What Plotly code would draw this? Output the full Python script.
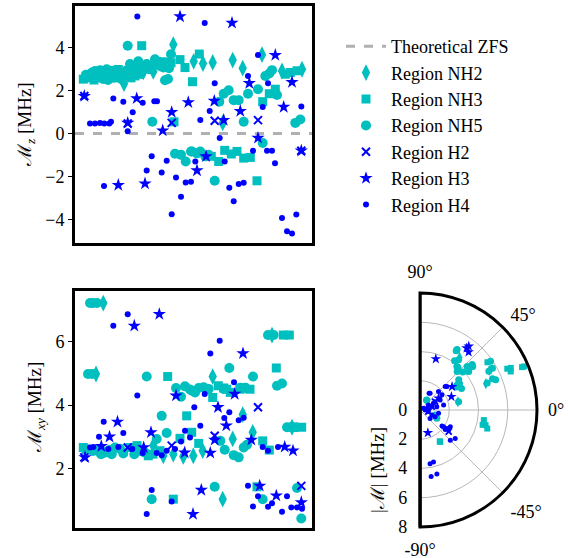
import plotly.graph_objects as go

W, H = 568, 558
CYAN = "#00BFBF"
BLUE = "#0000FF"
FONT = "Liberation Serif"

# ---------------- data (x = sample index) ----------------
ZFS_VALUE = 0.0
X_RANGE = [-8, 229]

# Region NH2 (thin diamonds)
nh2_x_top = [90.3, 110.7, 120, 129.7, 149.7, 179, 159.7, 41, 139.7, 60.3, 70.3, 199, 219]
nh2_mz = [4.15, 3.37, 3.27, 3.32, 3.43, 3.68, 3.05, 2.33, 0.5, 2.88, 2.9, 2.92, 3.0]
nh2_x_bot = [20.3, 13, 129.7, 159.7, 169.7, 149.7, 119.7, 110.3, 139.7, 70.3, 90.3, 100.3, 80.3, 209, 189]
nh2_mxy = [7.22, 4.98, 4.9, 3.7, 3.14, 2.93, 2.56, 2.4, 1.03, 2.72, 2.45, 2.38, 2.4, 3.3, 6.21]

# Region NH3 (squares)
nh3_x_top = [58.7, 91, 109.5, 116.3, 186.3, 192.3, 179.7, 174, 97, 102, 0.3, 15.3, 35.3, 52, 63.7, 73.7,
             207.3, 214, 202.3, 141.7, 148.3, 154, 160.7, 167.3, 135.7, 128.3,
             7, 11, 22, 25, 30, 40, 45, 48, 55, 68, 79, 88]
nh3_mz = [4.1, 0.55, 2.42, 3.71, 1.86, 2.07, 1.49, -2.2, 3.45, 3.08, 2.54, 2.7, 2.99, 2.69, 3.08, 3.37,
          2.85, 2.93, 2.77, -0.78, -0.95, -0.83, -1.14, -1.11, -1.3, -1.06,
          2.7, 2.5, 2.85, 2.65, 2.95, 2.7, 2.95, 2.6, 3.0, 3.15, 3.35, 3.3]
nh3_x_bot = [84.7, 103.7, 97, 90.3, 193.3, 200.3, 206.3, 129.7, 135.3, 143.7, 147.3, 157, 167, 140.7, 160.7,
             115.7, 179.7, 186.3, 174, 108.7, 0.3, 47, 65.3, 77, 3, 210.3, 218.7, 17, 29, 54, 70]
nh3_mxy = [4.9, 3.66, 2.95, 1.03, 5.17, 6.21, 6.21, 4.24, 4.61, 4.5, 4.4, 4.5, 4.5, 4.54, 4.54,
           2.79, 2.87, 2.58, 1.42, 3.14, 2.66, 2.66, 2.4, 2.56, 2.6, 3.3, 3.3, 2.55, 2.6, 2.72, 2.45]

# Region NH5 (circles)
nh5_x_top = [44.7, 88, 82, 85, 69.3, 92, 98, 102.7, 108, 140.7, 145.7, 136.3, 150.7, 155.7, 165, 175, 194,
             212.3, 217.3, 160.7, 179.7, 131.7, 182.3, 186.3, 189,
             7, 12, 23.7, 28.7, 25, 47, 55.3, 63.7, 72, 75.3, 80.3,
             109, 114, 122.3, 125.7, 117.3,
             3, 5, 9, 14, 17, 20, 27, 31, 34, 38, 42, 50, 58, 61, 66, 77, 84, 86]
nh5_mz = [4.1, 3.7, 2.49, 2.55, 0.55, -0.94, -0.99, -1.3, -0.83, 1.86, 2.02, 1.49, 1.56, 1.56, 1.86, 2.07, 1.8,
          0.5, 0.66, 0.55, -0.44, -2.2, 2.69, 2.8, 2.96,
          2.77, 2.92, 3.0, 2.77, 2.5, 3.24, 3.37, 3.24, 3.47, 3.3, 3.08,
          -0.83, -0.92, -1.06, -0.99, -0.83,
          2.75, 2.62, 2.85, 2.62, 2.95, 2.55, 2.9, 2.6, 2.78, 2.55, 2.88, 2.95, 2.78, 3.1, 3.0, 3.15, 3.3, 3.05]
nh5_x_bot = [7, 10, 14, 5, 9, 63.7, 93, 98, 102, 107, 112, 78.7, 83.7, 73.7, 68.7, 185, 190.7, 146.3, 170,
             194, 199, 109, 115.7, 120.7, 125.7, 140.7, 157.3, 162.3, 141.7, 150.7, 155.7, 160.7, 164,
             137.3, 131.7, 179.7, 214, 218.3, 204, 208.3, 213,
             15.3, 22, 25.3, 28.7, 32, 40.3, 51.3, 5, 10, 18, 57, 62, 37]
nh5_mxy = [7.22, 7.22, 7.22, 4.98, 4.98, 4.9, 4.54, 4.26, 4.59, 4.49, 4.4, 3.66, 3.12, 2.93, 1.03, 6.21, 6.21,
           5.17, 4.9, 4.61, 4.68, 4.45, 4.54, 4.56, 4.51, 4.51, 4.55, 4.55, 2.59, 2.42, 2.35, 2.66, 2.75,
           2.87, 1.42, 1.03, 1.38, 0.42, 3.3, 3.3, 3.3,
           2.58, 2.5, 2.56, 2.45, 2.66, 2.47, 2.45, 2.6, 2.55, 2.45, 2.55, 2.5, 2.62]

# Region H2 (x)
h2_x = [1.3, 44.7, 88.7, 131.7, 175, 218.3]
h2_mz = [1.75, 0.47, 0.5, 0.6, 0.63, -0.8]
h2_mxy = [2.35, 2.66, 2.72, 3.03, 3.93, 1.45]

# Region H3 (stars)
h3_x_top = [97, 149, 192.3, 166.3, 209, 53.7, 105.3, 131.3, 200.7, 88.7, 157.3, 140.7, 79.7, 175, 123, 114,
            35.3, 62, 1.3, 44.7, 218.3]
h3_mz = [5.46, 5.16, 3.66, 2.35, 2.4, 1.64, 1.46, 1.52, 1.24, 1.0, 1.05, 0.63, 0.14, -0.2, -1.06, -1.72,
         -2.4, -2.33, 1.75, 0.5, -0.8]
h3_x_bot = [76.3, 51.3, 93, 34.5, 26.5, 68, 160, 151.7, 135, 143.3, 131.7, 168.3, 201.7, 210, 127.3, 118.3,
            176.7, 193.3, 218.3, 110, 18.3, 60.7, 101.7, 2]
h3_mxy = [6.87, 6.5, 4.3, 3.47, 3.0, 3.14, 5.63, 4.35, 3.93, 3.35, 2.9, 2.9, 2.68, 2.56, 2.49, 1.32,
          1.45, 1.14, 0.93, 0.56, 2.7, 2.66, 2.5, 2.35]

# Region H4 (dots)
h4_x_top = [54.3, 121.7, 175, 165, 185, 131.7, 30.3, 40.3, 59.7, 71.3, 74, 179.7, 218.3, 49.7, 126.7,
            7, 12, 17, 21.3, 26.3, 28, 44.7, 117.3, 136.7, 170, 184, 189, 68.7, 83.7, 63.7, 78.7, 93,
            102.7, 108, 21, 98, 88.7, 112.3, 141.7, 146.3, 155.7, 160.7, 150.7, 199, 213.3, 204, 209, 192]
h4_mz = [5.46, 5.16, 3.66, 2.69, 2.35, 2.35, 1.64, 1.49, 1.44, 1.51, 1.51, 1.24, 1.26, 1.0, 1.05,
         0.47, 0.47, 0.5, 0.47, 0.47, 0.55, 0.11, 0.63, -0.2, -0.8, -0.8, -0.8, -1.06, -1.27, -1.72, -1.81, -2.05,
         -2.28, -2.25, -2.44, -2.94, -3.76, -1.3, -1.3, -2.52, -2.35, -2.29, -3.15, -3.93, -3.77, -4.55, -4.66, -1.38]
h4_x_bot = [44.7, 30.3, 54.3, 111.3, 20.7, 40.3, 16, 102, 107, 68.7, 88.7, 63.7, 136.7, 127.3, 151, 121.7,
            146.3, 141.3, 155.7, 160.7, 117.3, 179.7, 185, 195, 165, 175, 204, 170, 185, 189, 199, 208.3,
            214, 219, 7, 10.3, 25.3, 35.3, 49.3, 59.7, 73.7, 78.7, 83.7, 92, 98]
h4_mxy = [6.87, 6.5, 4.3, 3.93, 3.47, 3.12, 3.0, 3.19, 2.98, 1.32, 0.96, 0.56, 6.03, 5.63, 4.72, 4.35,
          3.77, 3.59, 3.52, 3.6, 3.35, 2.68, 2.56, 2.68, 1.45, 1.12, 1.12, 0.8, 0.79, 0.9, 0.63, 0.77,
          0.77, 0.73, 2.66, 2.68, 2.61, 2.68, 2.61, 2.49, 2.49, 2.42, 2.56, 2.61, 2.85]

# Polar panel: |M| (MHz) and angle (degrees)
R_MAX = 8
nh2_r = [4.5, 5.45, 4.85, 2.65]
nh2_t = [53, 29.7, 21.8, 12.3]
nh3_r = [6.84, 6.74, 7.72, 7.57, 6.6, 4.42, 4.6, 4.77, 4.4, 2.58, 2.53, 5.65]
nh3_t = [24.9, 23, 22.7, 22.8, 25.3, -9, -13, -15.4, -13.3, -57.7, -57.7, 35.3]
nh5_r = [4.85, 4.75, 4.34, 4.12, 3.9, 3.91, 3.66, 4.39, 4.73, 4.67, 4.25, 3.91, 3.36, 3.25, 3.06, 2.94, 3.2,
         2.7, 0.83, 0.81, 1.09, 1.28, 5.86, 5.72, 5.4, 5.57, 4.95, 5.4]
nh5_t = [58.5, 58.6, 52.5, 55, 49.7, 48.5, 46, 42.8, 41, 39.5, 38.4, 41.5, 38, 33.7, 34, 32.5, 27.5,
         12, 56, 56, -18, -26, 34.6, 30, 29.3, 21.8, 21.8, 23.4]
h2_r = [1.18, 0.84, 2.46, 0.58]
h2_t = [29, 16, -37, -11]
h3_r = [5.49, 5.17, 5.3, 3.66, 2.33, 1.65, 2.71, 1.5]
h3_t = [52.6, 50, 53, 72.8, 23, -71, 36, 32.5]
h4_r = [2.36, 1.31, 1.34, 1.86, 2.18, 2.39, 2.93, 3.1, 3.74, 3.68, 4.61, 4.52, 1.18, 1.82, 1.54, 1.65, 0.84,
        0.5, 0.35, 0.58, 0.88, 0.9, 1.13, 1.29, 1.17, 1.03, 0.67, 0.26, 2.44, 1.79, 2.23, 1.98, 2.37]
h4_t = [43, 61.7, 59, -36, -37.7, -35, -45, -39, -79.4, -75.5, -80.5, -75.2, 29, 34.7, 26.6, 12, 16,
        14, 0, -11, -23, -40, -24, -10, 11, 27, 31, 27, 41, 45, -34.5, -35.5, -29]

series = [
    dict(name="Region NH2", color=CYAN, symbol="diamond-tall", size=12, psize=8, lw=0,
         xt=nh2_x_top, yt=nh2_mz, xb=nh2_x_bot, yb=nh2_mxy, r=nh2_r, t=nh2_t),
    dict(name="Region NH3", color=CYAN, symbol="square", size=9, psize=6, lw=0,
         xt=nh3_x_top, yt=nh3_mz, xb=nh3_x_bot, yb=nh3_mxy, r=nh3_r, t=nh3_t),
    dict(name="Region NH5", color=CYAN, symbol="circle", size=10, psize=7, lw=0,
         xt=nh5_x_top, yt=nh5_mz, xb=nh5_x_bot, yb=nh5_mxy, r=nh5_r, t=nh5_t),
    dict(name="Region H2", color=BLUE, symbol="x-thin", size=8, psize=6, lw=2,
         xt=h2_x, yt=h2_mz, xb=h2_x, yb=h2_mxy, r=h2_r, t=h2_t),
    dict(name="Region H3", color=BLUE, symbol="star", size=10, psize=8, lw=0,
         xt=h3_x_top, yt=h3_mz, xb=h3_x_bot, yb=h3_mxy, r=h3_r, t=h3_t),
    dict(name="Region H4", color=BLUE, symbol="circle", size=6, psize=5, lw=0,
         xt=h4_x_top, yt=h4_mz, xb=h4_x_bot, yb=h4_mxy, r=h4_r, t=h4_t),
]

fig = go.Figure()

fig.add_trace(go.Scatter(x=X_RANGE, y=[ZFS_VALUE, ZFS_VALUE], mode="lines", name="Theoretical ZFS",
                         line=dict(color="#B0B0B0", width=3, dash="dash"), xaxis="x", yaxis="y",
                         hoverinfo="skip"))

for s in series:
    mk = dict(color=s["color"], symbol=s["symbol"], size=s["size"],
              line=dict(width=s["lw"], color=s["color"]))
    fig.add_trace(go.Scatter(x=s["xt"], y=s["yt"], mode="markers", name=s["name"], legendgroup=s["name"],
                             marker=mk, xaxis="x", yaxis="y"))
    fig.add_trace(go.Scatter(x=s["xb"], y=s["yb"], mode="markers", name=s["name"], legendgroup=s["name"],
                             showlegend=False, marker=mk, xaxis="x2", yaxis="y2"))
    fig.add_trace(go.Scatterpolar(r=s["r"], theta=s["t"], mode="markers", name=s["name"],
                                  legendgroup=s["name"], showlegend=False,
                                  marker=dict(color=s["color"], symbol=s["symbol"], size=s["psize"],
                                              line=dict(width=s["lw"], color=s["color"]))))

# straight edge of the half-disc frame
fig.add_trace(go.Scatterpolar(r=[R_MAX, 0, R_MAX], theta=[90, 90, -90], mode="lines",
                              line=dict(color="black", width=3), showlegend=False, hoverinfo="skip"))

xd = [75 / W, 312 / W]
axis_common = dict(showline=True, linecolor="black", linewidth=3, mirror=True, showgrid=False,
                   zeroline=False)
fig.update_layout(
    width=W, height=H, margin=dict(l=0, r=0, t=0, b=0),
    paper_bgcolor="white", plot_bgcolor="white",
    font=dict(family=FONT, size=18, color="black"),
    showlegend=True,
    legend=dict(x=341 / W, y=1 - 28 / H, xanchor="left", yanchor="top", bgcolor="rgba(0,0,0,0)",
                font=dict(family=FONT, size=18), itemwidth=40, tracegroupgap=0),
    xaxis=dict(domain=xd, range=X_RANGE, showticklabels=False, ticks="", anchor="y", **axis_common),
    yaxis=dict(domain=[1 - 243 / H, 1 - 6 / H], range=[-5.1, 5.95], tickvals=[-4, -2, 0, 2, 4],
               ticks="outside", ticklen=4, tickcolor="black", anchor="x", **axis_common),
    xaxis2=dict(domain=xd, range=X_RANGE, showticklabels=False, ticks="", anchor="y2", **axis_common),
    yaxis2=dict(domain=[1 - 528 / H, 1 - 291 / H], range=[0.12, 7.6], tickvals=[2, 4, 6],
                ticks="outside", ticklen=4, tickcolor="black", anchor="x2", **axis_common),
    polar=dict(
        domain=dict(x=[420 / W, 537 / W], y=[(H - 410 - 117) / H, (H - 410 + 117) / H]),
        sector=[-90, 90], bgcolor="white",
        radialaxis=dict(range=[0, R_MAX], tickvals=[0, 2, 4, 6, 8], angle=-90, tickangle=-90,
                        showline=True, linecolor="black", linewidth=3, gridcolor="#B8B8B8", gridwidth=1,
                        ticks="outside", ticklen=4, tickcolor="rgba(0,0,0,0)",
                        tickfont=dict(family=FONT, size=18)),
        angularaxis=dict(rotation=0, direction="counterclockwise", tickvals=[-90, -45, 0, 45, 90],
                         ticktext=["-90°", "-45°", "0°", "45°", "90°"], showline=True, linecolor="black",
                         linewidth=3, gridcolor="#B8B8B8", gridwidth=1, ticks="outside", ticklen=6,
                         tickcolor="rgba(0,0,0,0)", tickfont=dict(family=FONT, size=18)),
    ),
    annotations=[
        dict(text="ℳ<sub><i>z</i></sub> [MHz]", xref="paper", yref="paper", x=26 / W, y=1 - 125 / H,
             showarrow=False, textangle=-90, xanchor="center", yanchor="middle",
             font=dict(family=FONT, size=19)),
        dict(text="ℳ<sub><i>xy</i></sub> [MHz]", xref="paper", yref="paper", x=36 / W, y=1 - 408 / H,
             showarrow=False, textangle=-90, xanchor="center", yanchor="middle",
             font=dict(family=FONT, size=19)),
        dict(text="|ℳ| [MHz]", xref="paper", yref="paper", x=377 / W, y=1 - 470 / H,
             showarrow=False, textangle=-90, xanchor="center", yanchor="middle",
             font=dict(family=FONT, size=19)),
    ],
)

fig.write_html("out.html", config={"displayModeBar": False},
               post_script="document.body.style.margin='0';document.body.style.overflow='hidden';")
